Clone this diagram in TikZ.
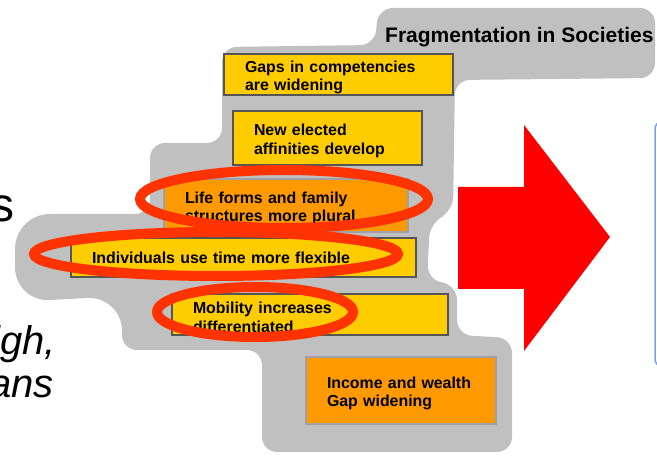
\documentclass[tikz,border=0pt]{standalone}
\usepackage{fontspec}
\setmainfont{Liberation Sans}
\definecolor{boxyellow}{HTML}{FFCC00}
\definecolor{boxorange}{HTML}{FF9900}
\definecolor{cloudgray}{HTML}{C0C0C0}
\definecolor{ringred}{HTML}{FF3300}
\definecolor{framegray}{HTML}{555555}
\definecolor{paleframe}{HTML}{A0A0A8}
\definecolor{panelblue}{HTML}{7AA0F0}

\tikzset{
  factor/.style={anchor=north west, align=left, inner xsep=21pt, inner ysep=0pt,
                 line width=2pt, font=\bfseries\fontsize{15.9}{18.5}\selectfont},
  twoline/.style={text height=17pt},
  yellowfactor/.style={factor, fill=boxyellow, draw=framegray},
  orangefactor/.style={factor, fill=boxorange, draw=paleframe},
  ring/.style={draw=ringred, line width=10pt},
}

\begin{document}
\begin{tikzpicture}[x=1pt, y=-1pt]
  \useasboundingbox (0,0) rectangle (657,457);
  \clip (0,0) rectangle (657,457);

  % Cut-off words on the left
  \node[anchor=base east, inner sep=0, font=\fontsize{48}{52}\selectfont] (wordtop) at (15,222) {s};
  \node[anchor=base east, inner sep=0, font=\itshape\fontsize{40}{43}\selectfont] (wordhigh) at (56,355) {igh,};
  \node[anchor=base east, inner sep=0, font=\itshape\fontsize{40}{43}\selectfont] (wordmeans) at (54,398) {ans};

  % Gray cloud behind the factors
  \fill[cloudgray, rounded corners=15pt]
    (222,47) -- (375,45) -- (378,8) -- (655,8) -- (655,78) -- (455,80)
    -- (453,212) -- (430,222) -- (427,280) -- (457,285) -- (457,335)
    -- (512,338) -- (512,452) -- (262,452) -- (262,350) -- (122,350)
    [rounded corners=35pt] -- (122,296) -- (15,302) -- (15,214)
    [rounded corners=15pt] -- (150,214) -- (150,143)
    -- (222,143) -- cycle;

  % Title
  \node[anchor=base west, inner sep=0, font=\bfseries\fontsize{21}{25}\selectfont] (title) at (385,43) {Fragmentation in Societies};

  % Factors
  \node[yellowfactor, twoline, text width=187pt, minimum height=41pt] (gaps) at (223,53) {Gaps in competencies\\are widening};
  \node[yellowfactor, twoline, text width=147pt, minimum height=54pt] (affinity) at (232,110) {New elected\\affinities develop};
  \node[orangefactor, twoline, text width=202pt, minimum height=53pt] (lifeforms) at (163,178) {Life forms and family\\structures more plural};
  \node[yellowfactor, text width=303pt, minimum height=39pt] (timeuse) at (70,237) {Individuals use time more flexible};
  \node[yellowfactor, twoline, text width=234pt, minimum height=41pt] (mobility) at (171,293) {Mobility increases\\differentiated};
  \node[orangefactor, twoline, text width=148pt, minimum height=67pt] (income) at (305,356) {Income and wealth\\Gap widening};

  % Red rings
  \draw[ring] (284,199) ellipse [x radius=144pt, y radius=29pt];
  \draw[ring] (216,254) ellipse [x radius=182pt, y radius=22pt];
  \draw[ring] (255,312) ellipse [x radius=98pt, y radius=25pt];

  % Big arrow
  \fill[red] (458,187) -- (524,187) -- (524,125) -- (610,237) -- (524,351)
    -- (524,289) -- (458,289) -- cycle;

  % Panel on the right edge
  \draw[panelblue, line width=1.5pt, fill=white, rounded corners=8pt] (655,121) rectangle (720,367);
\end{tikzpicture}
\end{document}
